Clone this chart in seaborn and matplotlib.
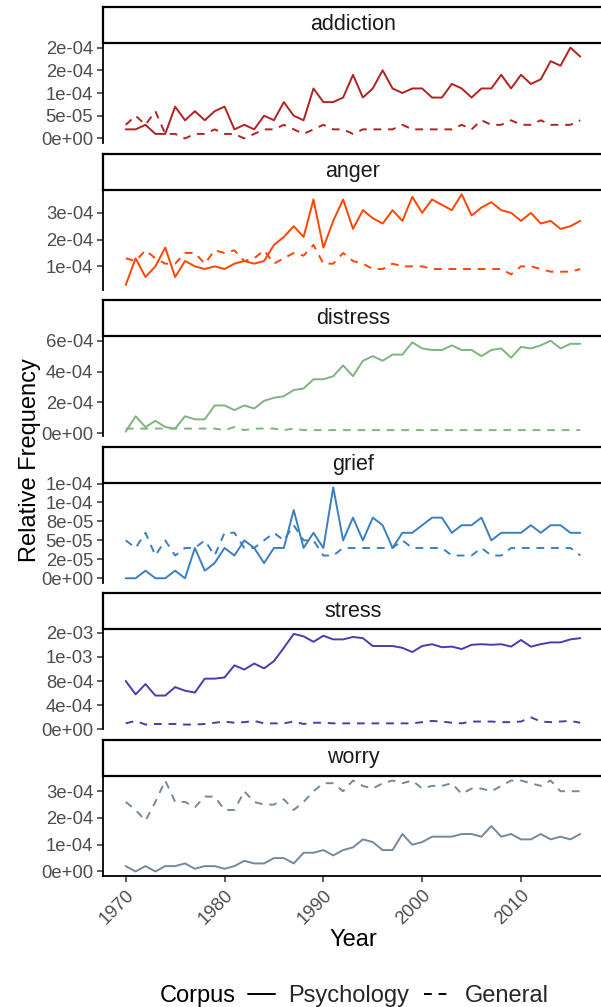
import matplotlib
matplotlib.use("Agg")
import matplotlib.pyplot as plt
import seaborn as sns
import pandas as pd
from matplotlib.lines import Line2D

# ---------------- data (relative frequency, in units of 1e-5) ----------------
years = list(range(1970, 2017))
terms = ["addiction", "anger", "distress", "grief", "stress", "worry"]
corpora = ["Psychology", "General"]
UNIT = 1e-5

addiction_psych = [2, 2, 3, 1, 1, 7, 4, 6, 4, 6,
                   7, 2, 3, 2, 5, 4, 8, 5, 4, 11,
                   8, 8, 9, 14, 9, 11, 15, 11, 10, 11,
                   11, 9, 9, 12, 11, 9, 11, 11, 14, 11,
                   14, 12, 13, 17, 16, 20, 18]
addiction_general = [3, 5, 3, 6, 1, 1, 0, 1, 1, 2,
                     1, 1, 0, 1, 2, 2, 3, 2, 1, 2,
                     3, 2, 2, 1, 2, 2, 2, 2, 3, 2,
                     2, 2, 2, 2, 3, 2, 4, 3, 3, 4,
                     3, 3, 4, 3, 3, 3, 4]

anger_psych = [3, 13, 6, 10, 17, 6, 12, 10, 9, 10,
               9, 11, 12, 11, 12, 18, 21, 25, 21, 35,
               17, 27, 35, 24, 31, 28, 26, 31, 27, 36,
               30, 35, 33, 31, 37, 29, 32, 34, 31, 30,
               27, 30, 26, 27, 24, 25, 27]
anger_general = [13, 12, 16, 13, 11, 11, 15, 15, 11, 16,
                 15, 16, 12, 13, 16, 11, 13, 15, 14, 18,
                 11, 11, 15, 12, 11, 9, 9, 11, 10, 10,
                 10, 9, 9, 9, 9, 9, 9, 9, 9, 7,
                 10, 10, 9, 8, 8, 8, 9]

distress_psych = [1, 11, 4, 8, 4, 3, 11, 9, 9, 18,
                  18, 15, 18, 16, 21, 23, 24, 28, 29, 35,
                  35, 37, 44, 37, 47, 50, 47, 51, 51, 59,
                  55, 54, 54, 57, 54, 54, 50, 54, 55, 49,
                  56, 55, 57, 60, 55, 58, 58]
distress_general = [3, 3, 3, 3, 3, 3, 3, 3, 3, 3,
                    2, 4, 2, 3, 3, 3, 2, 3, 2, 2,
                    2, 2, 2, 2, 2, 2, 2, 2, 2, 2,
                    2, 2, 2, 2, 2, 2, 2, 2, 2, 2,
                    2, 2, 2, 2, 2, 2, 2]

grief_psych = [0, 0, 1, 0, 0, 1, 0, 4, 1, 2,
               4, 3, 5, 4, 2, 4, 4, 9, 4, 6,
               4, 12, 5, 8, 5, 8, 7, 4, 6, 6,
               7, 8, 8, 6, 7, 7, 8, 5, 6, 6,
               6, 7, 6, 7, 7, 6, 6]
grief_general = [5, 4, 6, 3, 5, 3, 4, 4, 5, 3,
                 6, 6, 4, 4, 5, 6, 5, 7, 5, 5,
                 3, 3, 4, 4, 4, 4, 4, 4, 5, 4,
                 4, 4, 4, 3, 3, 3, 4, 3, 3, 4,
                 4, 4, 4, 4, 4, 4, 3]

stress_psych = [80, 58, 75, 56, 56, 70, 64, 61, 84, 84,
                86, 106, 99, 109, 101, 113, 135, 158, 154, 145,
                155, 149, 149, 153, 151, 138, 138, 138, 135, 128,
                138, 141, 136, 137, 133, 140, 141, 140, 141, 137,
                148, 137, 141, 144, 144, 149, 151]
stress_general = [10, 14, 8, 9, 9, 9, 8, 8, 9, 11,
                  13, 11, 12, 14, 10, 10, 10, 13, 9, 11,
                  11, 10, 10, 10, 10, 10, 10, 10, 10, 10,
                  12, 14, 13, 11, 10, 13, 13, 13, 12, 12,
                  13, 20, 13, 12, 13, 14, 11]

worry_psych = [2, 0, 2, 0, 2, 2, 3, 1, 2, 2,
               1, 2, 4, 3, 3, 5, 5, 3, 7, 7,
               8, 6, 8, 9, 12, 11, 8, 8, 14, 10,
               11, 13, 13, 13, 14, 14, 13, 17, 13, 14,
               12, 12, 14, 12, 13, 12, 14]
worry_general = [26, 23, 19, 26, 34, 26, 26, 24, 28, 28,
                 23, 23, 30, 26, 25, 25, 27, 23, 26, 30,
                 33, 33, 30, 34, 32, 31, 33, 34, 33, 34,
                 31, 32, 32, 33, 29, 31, 31, 30, 32, 34,
                 34, 33, 32, 34, 30, 30, 30]

series = {
    "addiction": (addiction_psych, addiction_general),
    "anger": (anger_psych, anger_general),
    "distress": (distress_psych, distress_general),
    "grief": (grief_psych, grief_general),
    "stress": (stress_psych, stress_general),
    "worry": (worry_psych, worry_general),
}

term_colors = ["#B22222", "#FF4500", "#80B380", "#3A7FC1", "#4B3BAB", "#778899"]

ytick_values = {
    "addiction": [0, 5e-5, 1e-4, 1.5e-4, 2e-4],
    "anger": [1e-4, 2e-4, 3e-4],
    "distress": [0, 2e-4, 4e-4, 6e-4],
    "grief": [0, 2.5e-5, 5e-5, 7.5e-5, 1e-4, 1.25e-4],
    "stress": [0, 4e-4, 8e-4, 1.2e-3, 1.6e-3],
    "worry": [0, 1e-4, 2e-4, 3e-4],
}
ytick_labels = {
    "addiction": ["0e+00", "5e-05", "1e-04", "2e-04", "2e-04"],
    "anger": ["1e-04", "2e-04", "3e-04"],
    "distress": ["0e+00", "2e-04", "4e-04", "6e-04"],
    "grief": ["0e+00", "2e-05", "5e-05", "8e-05", "1e-04", "1e-04"],
    "stress": ["0e+00", "4e-04", "8e-04", "1e-03", "2e-03"],
    "worry": ["0e+00", "1e-04", "2e-04", "3e-04"],
}
xtick_values = [1970, 1980, 1990, 2000, 2010]

rows = []
for t in terms:
    p, g = series[t]
    for y, v in zip(years, p):
        rows.append((t, y, v * UNIT, "Psychology"))
    for y, v in zip(years, g):
        rows.append((t, y, v * UNIT, "General"))
df = pd.DataFrame(rows, columns=["Term", "Year", "Frequency", "Corpus"])

# ---------------- style ----------------
sns.set_style("white")
plt.rcParams["font.family"] = ["Liberation Sans", "DejaVu Sans"]

W, H = 601, 1007
fig = plt.figure(figsize=(W / 100, H / 100), dpi=100)


def fx(px):
    return px / W


def fy(py):
    return 1 - py / H


left_px, right_px = 103, 603
strip_h, panel_h, step, top0 = 36, 100, 146.6, 7
lw = 1.4
tick_fs = 13.3
title_fs = 17

for i, t in enumerate(terms):
    st = top0 + i * step
    # strip
    sax = fig.add_axes([fx(left_px), fy(st + strip_h), fx(right_px - left_px), strip_h / H])
    sax.set_xticks([]); sax.set_yticks([])
    sax.set_facecolor("white")
    for s in sax.spines.values():
        s.set_visible(True); s.set_linewidth(1.6); s.set_color("black")
    sax.text(0.5, 0.5, t, transform=sax.transAxes, ha="center", va="center",
             fontsize=15.5, color="#1A1A1A")

    # panel
    ax = fig.add_axes([fx(left_px), fy(st + strip_h + panel_h), fx(right_px - left_px), panel_h / H])
    sub = df[df["Term"] == t]
    sns.lineplot(data=sub, x="Year", y="Frequency", style="Corpus",
                 style_order=corpora,
                 dashes={"Psychology": "", "General": (4, 3.5)},
                 color=term_colors[i], linewidth=lw, legend=False, ax=ax)
    lo, hi = sub["Frequency"].min(), sub["Frequency"].max()
    pad = 0.05 * (hi - lo)
    ax.set_ylim(lo - pad, hi + pad)
    ax.set_xlim(1970 - 0.05 * 46, 2016 + 0.05 * 46)
    ax.set_yticks(ytick_values[t])
    ax.set_yticklabels(ytick_labels[t])
    ax.set_xlabel(""); ax.set_ylabel("")
    ax.set_facecolor("white")
    ax.patch.set_alpha(0)
    for side in ["top", "right"]:
        ax.spines[side].set_visible(False)
    ax.spines["left"].set_linewidth(1.3); ax.spines["left"].set_color("black")
    ax.tick_params(axis="y", length=4.5, width=1.1, color="#333333",
                   labelsize=tick_fs, labelcolor="#4D4D4D", pad=2.5, left=True)
    if i < len(terms) - 1:
        ax.spines["bottom"].set_visible(False)
        ax.set_xticks([])
    else:
        ax.spines["bottom"].set_linewidth(1.3); ax.spines["bottom"].set_color("black")
        ax.set_xticks(xtick_values)
        ax.set_xticklabels([str(v) for v in xtick_values], rotation=45,
                           ha="right", va="top", rotation_mode="anchor")
        ax.tick_params(axis="x", length=4.5, width=1.1, color="#333333",
                       labelsize=tick_fs, labelcolor="#4D4D4D", pad=3, bottom=True)

# titles
fig.text(fx(353), fy(940), "Year", ha="center", va="center", fontsize=title_fs, color="black")
fig.text(fx(30), fy(460), "Relative Frequency", ha="center", va="center",
         rotation=90, fontsize=title_fs, color="black")

# legend
fig.text(fx(160), fy(996), "Corpus", ha="left", va="center", fontsize=title_fs, color="black")
handles = [Line2D([], [], color="black", linewidth=lw, linestyle="-"),
           Line2D([], [], color="black", linewidth=lw, linestyle=(0, (4, 3.5)))]
fig.legend(handles=handles, labels=corpora, ncol=2, loc="center left",
           bbox_to_anchor=(fx(248), fy(996)), frameon=False, fontsize=title_fs,
           handlelength=1.15, handletextpad=0.55, columnspacing=0.65,
           borderaxespad=0, borderpad=0)

fig.savefig("out.png", dpi=100, facecolor="white")
